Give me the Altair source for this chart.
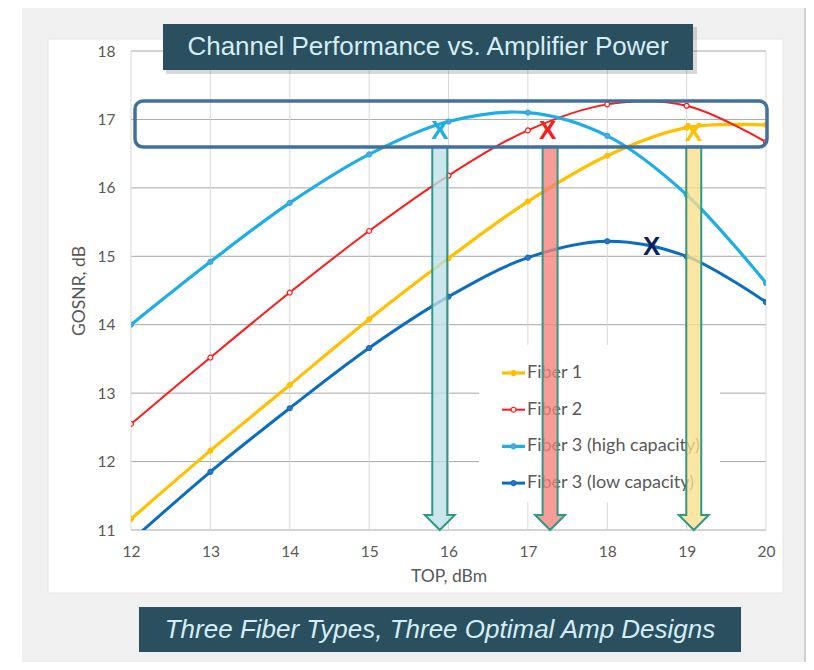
import altair as alt
import pandas as pd

# ---------------- data ----------------
top_dbm = [12, 13, 14, 15, 16, 17, 18, 19, 20]
fiber_1 = [11.16, 12.16, 13.12, 14.08, 14.97, 15.80, 16.47, 16.88, 16.92]
fiber_2 = [12.55, 13.52, 14.47, 15.37, 16.18, 16.84, 17.22, 17.20, 16.67]
fiber_3_high = [14.00, 14.92, 15.78, 16.49, 16.97, 17.10, 16.76, 15.90, 14.61]
fiber_3_low = [10.84, 11.85, 12.78, 13.66, 14.41, 14.98, 15.22, 15.00, 14.33]

series_names = ["Fiber 1", "Fiber 2", "Fiber 3 (high capacity)", "Fiber 3 (low capacity)"]
series_values = [fiber_1, fiber_2, fiber_3_high, fiber_3_low]
line_colors = ["#FFC000", "#FF1A1A", "#1DAEE8", "#0B6DBF"]
marker_fills = ["#FFC000", "#F4F4F4", "#6AA2D6", "#3A6FC8"]
line_widths = [3.2, 2, 3.2, 3]

x_ticks = [12, 13, 14, 15, 16, 17, 18, 19, 20]
y_ticks = [11, 12, 13, 14, 15, 16, 17, 18]

# optimal-power arrows (TOP, dBm) and their fills
optimal_top = [15.89, 17.28, 19.09]
arrow_fills = ["#BEDFE8", "#F58078", "#FCDF8A"]
arrow_top_db = 16.6
arrow_tip_db = 11.0

# "X" markers
x_mark_top = [15.89, 17.25, 19.09, 18.56]
x_mark_db = [16.83, 16.83, 16.80, 15.14]
x_mark_colors = ["#1DAEE8", "#FF1A1A", "#FFC000", "#0D1F5C"]

# ---------------- layout ----------------
W, H = 635, 479
PX_PER_DB = H / 7.0

rows = []
for name, vals, lw in zip(series_names, series_values, line_widths):
    for t, g in zip(top_dbm, vals):
        rows.append({"series": name, "top": t, "gosnr": g, "lw": lw})
df = pd.DataFrame(rows)

color_scale = alt.Scale(domain=series_names, range=line_colors)
fill_scale = alt.Scale(domain=series_names, range=marker_fills)
x_scale = alt.Scale(domain=[12, 20], nice=False, zero=False)
y_scale = alt.Scale(domain=[11, 18], nice=False, zero=False)

FONT = "Lato"
GREY = "#595959"

x_axis = alt.Axis(values=x_ticks, title="TOP, dBm", grid=False, domain=False, ticks=False,
                  labelPadding=14, labelFont=FONT, labelFontSize=15.5, labelColor=GREY,
                  titleFont=FONT, titleFontSize=17.5, titleFontWeight="normal", titleColor=GREY,
                  titlePadding=8, zindex=1, format="d", labelFlush=False)
y_axis = alt.Axis(values=y_ticks, title="GOSNR, dB", grid=False, domain=False, ticks=False,
                  labelPadding=16, labelFont=FONT, labelFontSize=15.5, labelColor=GREY,
                  titleFont=FONT, titleFontSize=17.5, titleFontWeight="normal", titleColor=GREY,
                  titlePadding=9, zindex=1, format="d")

X = lambda f="top:Q": alt.X(f, scale=x_scale, axis=x_axis)
Y = lambda f="gosnr:Q": alt.Y(f, scale=y_scale, axis=y_axis)

one = alt.Data(values=[{"d": 0}])


def box(x, x2, y, y2, **kw):
    return alt.Chart(one).mark_rect(**kw).encode(
        x=alt.value(x), x2=alt.value(x2), y=alt.value(y), y2=alt.value(y2))


# background panels
bg_gray = box(-109, 675, -44, 611, fill="#F0F0F0")
bg_white = box(-83, 652, -12, 542, fill="#FFFFFF", stroke="#E6E6E6", strokeWidth=1)
edge_line = alt.Chart(one).mark_rule(color="#CFCFCF", strokeWidth=2).encode(
    x=alt.value(674), y=alt.value(-44), y2=alt.value(611))

# gridlines
hgrid = alt.Chart(pd.DataFrame({"gosnr": y_ticks})).mark_rule(color="#A8A8A8", strokeWidth=1).encode(
    y=Y(), x=alt.value(0), x2=alt.value(W))
vgrid = alt.Chart(pd.DataFrame({"top": x_ticks})).mark_rule(color="#D9D9D9", strokeWidth=1).encode(
    x=X(), y=alt.value(0), y2=alt.value(H))

legend_bg = box(348, 589, 294, 451, fill="#FFFFFF")

# curves
lines = alt.Chart(df).mark_line(interpolate="catmull-rom", clip=True).encode(
    x=X(), y=Y(),
    color=alt.Color("series:N", scale=color_scale, legend=None),
    strokeWidth=alt.StrokeWidth("lw:Q", scale=None),
    detail="series:N",
    order="top:Q",
)
points = alt.Chart(df).mark_point(shape="circle", size=24, filled=False, opacity=1,
                                  strokeWidth=1.2, clip=True).encode(
    x=X(), y=Y(),
    color=alt.Color("series:N", scale=color_scale, legend=None),
    fill=alt.Fill("series:N", scale=fill_scale, legend=None),
)

# manual legend
leg_df = pd.DataFrame({"series": series_names, "i": list(range(len(series_names))),
                       "lw": line_widths})
leg_base = alt.Chart(leg_df).transform_calculate(py="322 + 36.7 * datum.i")
leg_rule = leg_base.mark_rule().encode(
    x=alt.value(371), x2=alt.value(394), y=alt.Y("py:Q", scale=None),
    color=alt.Color("series:N", scale=color_scale, legend=None),
    strokeWidth=alt.StrokeWidth("lw:Q", scale=None))
leg_pt = leg_base.mark_point(shape="circle", size=24, filled=False, opacity=1, strokeWidth=1.2).encode(
    x=alt.value(382.5), y=alt.Y("py:Q", scale=None),
    color=alt.Color("series:N", scale=color_scale, legend=None),
    fill=alt.Fill("series:N", scale=fill_scale, legend=None))
leg_txt = leg_base.mark_text(align="left", baseline="middle", font=FONT, fontSize=18, color=GREY).encode(
    x=alt.value(396), y=alt.Y("py:Q", scale=None), text="series:N")

# block arrows as one custom symbol each
arrow_px = (arrow_top_db - arrow_tip_db) * PX_PER_DB
half = arrow_px / 2.0
sw = 7.5 / half
hw = 15.0 / half
hh = 1.0 - 15.0 / half
ARROW = (f"M{-sw:.4f},-1L{sw:.4f},-1L{sw:.4f},{hh:.4f}L{hw:.4f},{hh:.4f}L0,1"
         f"L{-hw:.4f},{hh:.4f}L{-sw:.4f},{hh:.4f}Z")
arr_df = pd.DataFrame({"top": optimal_top,
                       "gosnr": [(arrow_top_db + arrow_tip_db) / 2.0] * len(optimal_top),
                       "fc": arrow_fills})
arrows = alt.Chart(arr_df).mark_point(shape=ARROW, size=arrow_px ** 2, filled=True, opacity=1,
                                      fillOpacity=0.78, stroke="#2E9A86", strokeWidth=2,
                                      strokeJoin="miter").encode(
    x=X(), y=Y(),
    fill=alt.Fill("fc:N", scale=None))

highlight = box(4, 636, 50, 96, fillOpacity=0, stroke="#41709E", strokeWidth=3.5, cornerRadius=8)

xm_df = pd.DataFrame({"top": x_mark_top, "gosnr": x_mark_db, "c": x_mark_colors})
x_marks = alt.Chart(xm_df).mark_text(text="X", font="Liberation Sans", fontWeight="bold", fontSize=26,
                                     align="center", baseline="middle").encode(
    x=X(), y=Y(),
    color=alt.Color("c:N", scale=None))

# title and bottom banners
BANNER = "#2A4F5F"
BANNER_TXT = "#D5EDF6"
title_shadow = box(35, 566, -24, 23, fill="#000000", opacity=0.15)
title_box = box(32, 562, -27, 19, fill=BANNER)
title_txt = alt.Chart(one).mark_text(text="Channel Performance vs. Amplifier Power",
                                     font="Liberation Sans", fontSize=26, color=BANNER_TXT,
                                     align="center", baseline="middle").encode(
    x=alt.value(297), y=alt.value(-4))
bottom_box = box(8, 610, 556, 601, fill=BANNER)
bottom_txt = alt.Chart(one).mark_text(text="Three Fiber Types, Three Optimal Amp Designs",
                                      font="Liberation Sans", fontSize=26, fontStyle="italic",
                                      color=BANNER_TXT, align="center", baseline="middle").encode(
    x=alt.value(309), y=alt.value(579))

chart = alt.layer(
    bg_gray, bg_white, edge_line, hgrid, vgrid, legend_bg,
    lines, points, leg_rule, leg_pt, leg_txt,
    arrows, highlight, x_marks,
    title_shadow, title_box, title_txt, bottom_box, bottom_txt,
).properties(
    width=W, height=H,
    padding={"left": 123, "top": 43, "right": 40, "bottom": 132},
    autosize=alt.AutoSizeParams(type="none"),
    background="#FFFFFF",
).configure_view(strokeWidth=0)

chart.save("out.html", embed_options={"renderer": "svg", "actions": False})
